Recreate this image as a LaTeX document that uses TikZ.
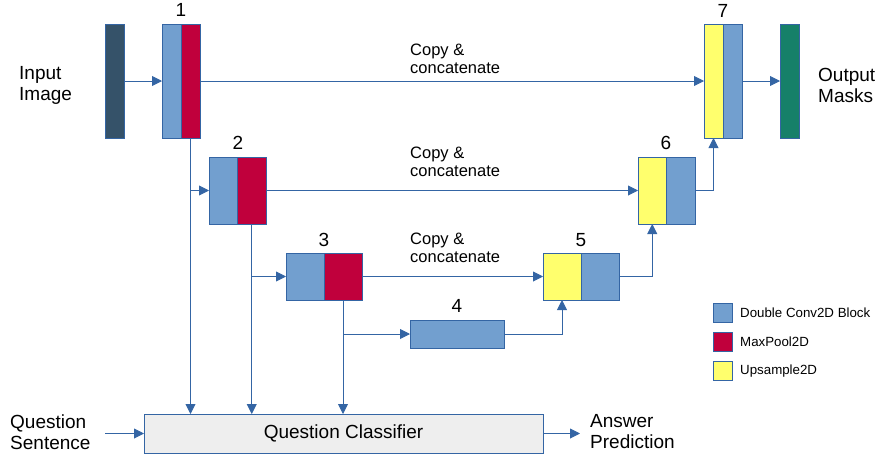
\documentclass[tikz,border=0pt]{standalone}
\usepackage{fontspec}
\setmainfont{Liberation Sans}
\usetikzlibrary{arrows.meta}
\definecolor{lnc}{HTML}{3465A4}
\definecolor{cblue}{HTML}{729FCF}
\definecolor{cred}{HTML}{C0003C}
\definecolor{cyel}{HTML}{FFFF6D}
\definecolor{cin}{HTML}{355269}
\definecolor{cout}{HTML}{168069}
\definecolor{cqc}{HTML}{EEEEEE}
\begin{document}
\begin{tikzpicture}[x=1pt,y=-1pt,
  blk/.style={draw=lnc, line width=0.9pt, inner sep=0pt, outer sep=0pt, rectangle},
  conn/.style={draw=lnc, line width=0.9pt},
  arr/.style={conn, -{Triangle[length=10pt,width=10pt]}},
  lbl/.style={font=\fontsize{19}{21}\selectfont, inner sep=0pt},
  txt/.style={font=\fontsize{19}{21}\selectfont, align=left, anchor=west, inner sep=0pt},
  ctxt/.style={font=\fontsize{16.5}{18.5}\selectfont, align=left, anchor=west, inner sep=0pt},
  leg/.style={font=\fontsize{13.3}{15}\selectfont, anchor=west, inner sep=0pt}]
\useasboundingbox (0,0) rectangle (875,456);

% input / output bars
\node[blk, fill=cin, minimum width=19pt, minimum height=114pt] (inp) at (114.5,81) {};
\node[blk, fill=cout, minimum width=19pt, minimum height=114pt] (outp) at (789.5,81) {};

% block 1
\node[blk, fill=cblue, minimum width=19pt, minimum height=114pt] (b1a) at (171.5,81) {};
\node[blk, fill=cred, minimum width=19pt, minimum height=114pt] (b1b) at (190.5,81) {};
% block 7
\node[blk, fill=cyel, minimum width=19pt, minimum height=114pt] (b7a) at (713.5,81) {};
\node[blk, fill=cblue, minimum width=19pt, minimum height=114pt] (b7b) at (732.5,81) {};
% block 2
\node[blk, fill=cblue, minimum width=28.5pt, minimum height=67pt] (b2a) at (223.25,190.5) {};
\node[blk, fill=cred, minimum width=28.5pt, minimum height=67pt] (b2b) at (251.75,190.5) {};
% block 6
\node[blk, fill=cyel, minimum width=28.5pt, minimum height=67pt] (b6a) at (652.25,190.5) {};
\node[blk, fill=cblue, minimum width=28.5pt, minimum height=67pt] (b6b) at (680.75,190.5) {};
% block 3
\node[blk, fill=cblue, minimum width=38pt, minimum height=47pt] (b3a) at (305,276.5) {};
\node[blk, fill=cred, minimum width=38pt, minimum height=47pt] (b3b) at (343,276.5) {};
% block 5
\node[blk, fill=cyel, minimum width=38pt, minimum height=47pt] (b5a) at (562,276.5) {};
\node[blk, fill=cblue, minimum width=38pt, minimum height=47pt] (b5b) at (600,276.5) {};
% block 4
\node[blk, fill=cblue, minimum width=94pt, minimum height=28pt] (b4) at (457,334) {};
% classifier
\node[blk, fill=cqc, minimum width=399pt, minimum height=39pt, font=\fontsize{19}{21}\selectfont] (qc) at (343.5,433.5) {Question Classifier};

% numbers
\node[lbl] at (181,10) {1};
\node[lbl] at (238,143) {2};
\node[lbl] at (324,240) {3};
\node[lbl] at (457,305.5) {4};
\node[lbl] at (581,240) {5};
\node[lbl] at (666,143) {6};
\node[lbl] at (723,10.5) {7};

% texts
\node[txt] (tin) at (19,85) {Input\\Image};
\node[txt] (tout) at (818,85) {Output\\Masks};
\node[txt] (tq) at (10,432) {Question\\Sentence};
\node[txt] (ta) at (590,432) {Answer\\Prediction};
\node[ctxt] (c1) at (410,59) {Copy \&\\concatenate};
\node[ctxt] (c2) at (410,162) {Copy \&\\concatenate};
\node[ctxt] (c3) at (410,248) {Copy \&\\concatenate};

% connectors
\draw[arr] (inp.east) -- (b1a.west);
\draw[arr] (b1b.east) -- (b7a.west);
\draw[arr] (b7b.east) -- (outp.west);
\draw[arr] (b2b.east) -- (b6a.west);
\draw[arr] (b3b.east) -- (b5a.west);
\draw[arr] (b6b.east) -| (b7a.south);
\draw[arr] (b5b.east) -| (b6a.south);
\draw[arr] (b4.east) -| (b5a.south);

\draw[arr] (b1b.south) -- (b1b.south |- qc.north);
\draw[arr] (b2b.south) -- (b2b.south |- qc.north);
\draw[arr] (b3b.south) -- (b3b.south |- qc.north);
\draw[arr] (b1b.south |- b2a.west) -- (b2a.west);
\draw[arr] (b2b.south |- b3a.west) -- (b3a.west);
\draw[arr] (b3b.south |- b4.west) -- (b4.west);

\coordinate (qin) at (105,433.5);
\coordinate (aout) at (580,433.5);
\draw[arr] (qin) -- (qc.west);
\draw[arr] (qc.east) -- (aout);

% legend
\node[blk, fill=cblue, minimum width=19pt, minimum height=19pt] (l1) at (723,312.5) {};
\node[blk, fill=cred, minimum width=19pt, minimum height=19pt] (l2) at (723,341.5) {};
\node[blk, fill=cyel, minimum width=19pt, minimum height=19pt] (l3) at (723,370.5) {};
\node[leg] at (740,313) {Double Conv2D Block};
\node[leg] at (740,342) {MaxPool2D};
\node[leg] at (740,371) {Upsample2D};
\end{tikzpicture}
\end{document}
